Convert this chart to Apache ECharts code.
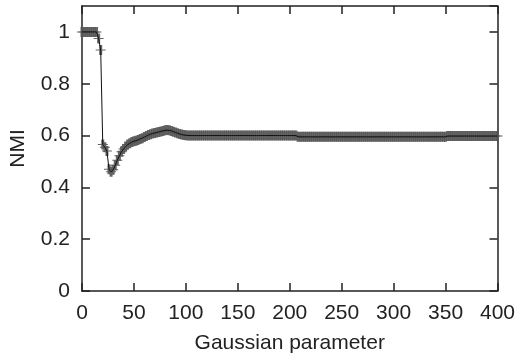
<!DOCTYPE html>
<html>
<head>
<meta charset="utf-8">
<script src="https://cdn.jsdelivr.net/npm/echarts@6/dist/echarts.min.js"></script>
<style>
html,body{margin:0;padding:0;background:#fff;}
#chart{width:518px;height:360px;}
</style>
</head>
<body>
<div id="chart"></div>
<script>
var xTicks = [0, 50, 100, 150, 200, 250, 300, 350, 400];
var yTicks = [0, 0.2, 0.4, 0.6, 0.8, 1];
var xs = [
0,2,4,6,8,10,12,14,16,18,20,22,24,26,28,30,32,34,36,38,
40,42,44,46,48,50,52,54,56,58,60,62,64,66,68,70,72,74,76,78,
80,82,84,86,88,90,92,94,96,98,100,102,104,106,108,110,112,114,116,118,
120,122,124,126,128,130,132,134,136,138,140,142,144,146,148,150,152,154,156,158,
160,162,164,166,168,170,172,174,176,178,180,182,184,186,188,190,192,194,196,198,
200,202,204,206,208,210,212,214,216,218,220,222,224,226,228,230,232,234,236,238,
240,242,244,246,248,250,252,254,256,258,260,262,264,266,268,270,272,274,276,278,
280,282,284,286,288,290,292,294,296,298,300,302,304,306,308,310,312,314,316,318,
320,322,324,326,328,330,332,334,336,338,340,342,344,346,348,350,352,354,356,358,
360,362,364,366,368,370,372,374,376,378,380,382,384,386,388,390,392,394,396,398,
400
];
var nmi = [
1,1,1,1,1,1,1,1,0.975,0.93,0.565,0.555,0.54,0.47,0.46,0.468,0.485,0.505,0.522,0.537,
0.548,0.558,0.565,0.57,0.575,0.578,0.58,0.583,0.587,0.59,0.594,0.598,0.602,0.605,0.608,0.61,0.612,0.614,0.616,0.618,
0.62,0.621,0.62,0.618,0.615,0.612,0.609,0.606,0.604,0.602,0.601,
0.6,0.6,0.6,0.6,0.6,0.6,0.6,0.6,0.6,0.6,
0.6,0.6,0.6,0.6,0.6,0.6,0.6,0.6,0.6,0.6,
0.6,0.6,0.6,0.6,0.6,0.6,0.6,0.6,0.6,0.6,
0.6,0.6,0.6,0.6,0.6,0.6,0.6,0.6,0.6,0.6,
0.6,0.6,0.6,0.6,0.6,0.6,0.6,0.6,0.6,0.6,
0.6,0.6,0.6,
0.595,0.595,0.595,0.595,0.595,0.595,0.595,0.595,0.595,0.595,
0.595,0.595,0.595,0.595,0.595,0.595,0.595,0.595,0.595,0.595,
0.595,0.595,0.595,0.595,0.595,0.595,0.595,0.595,0.595,0.595,
0.595,0.595,0.595,0.595,0.595,0.595,0.595,0.595,0.595,0.595,
0.595,0.595,0.595,0.595,0.595,0.595,0.595,0.595,0.595,0.595,
0.595,0.595,0.595,0.595,0.595,0.595,0.595,0.595,0.595,0.595,
0.595,0.595,0.595,0.595,0.595,0.595,0.595,0.595,0.595,0.595,
0.595,0.595,
0.598,0.598,0.598,0.598,0.598,0.598,0.598,0.598,0.598,0.598,
0.598,0.598,0.598,0.598,0.598,0.598,0.598,0.598,0.598,0.598,
0.598,0.598,0.598,0.598,0.598
];
var xName = 'Gaussian parameter';
var yName = 'NMI';

var pts = xs.map(function (x, i) { return [x, nmi[i]]; });
var font = 'Liberation Sans';
var axisCol = '#222';
var plusPath = 'path://M3.5,0H6.5V4.5H10V5.5H6.5V10H3.5V5.5H0V4.5H3.5Z';

function baseAxis(extra) {
  var a = {
    type: 'value',
    axisLine: { show: true, onZero: false, lineStyle: { color: axisCol, width: 1.5 } },
    axisTick: { show: true, inside: true, length: 8, lineStyle: { color: axisCol, width: 1.5 } },
    splitLine: { show: false },
    axisLabel: { color: '#222', fontFamily: font, fontSize: 21, showMaxLabel: true }
  };
  for (var k in extra) a[k] = extra[k];
  return a;
}

var chart = echarts.init(document.getElementById('chart'), null, { renderer: 'canvas' });
chart.setOption({
  animation: false,
  backgroundColor: '#fff',
  grid: { left: 78, right: 20, top: 6, bottom: 69, containLabel: false },
  xAxis: [
    baseAxis({
      position: 'bottom', min: xTicks[0], max: xTicks[xTicks.length - 1], interval: 50,
      name: xName, nameLocation: 'middle', nameGap: 42,
      nameTextStyle: { color: '#222', fontFamily: font, fontSize: 21 },
      axisLabel: { color: '#222', fontFamily: font, fontSize: 21, margin: 12 }
    }),
    baseAxis({
      position: 'top', min: xTicks[0], max: xTicks[xTicks.length - 1], interval: 50,
      axisLabel: { show: false }
    })
  ],
  yAxis: [
    baseAxis({
      position: 'left', min: 0, max: 1.1, interval: 0.2,
      name: yName, nameLocation: 'middle', nameGap: 53,
      nameTextStyle: { color: '#222', fontFamily: font, fontSize: 21 },
      axisLabel: { color: '#222', fontFamily: font, fontSize: 21, margin: 12, showMaxLabel: false,
        formatter: function (v) { return yTicks.indexOf(Math.round(v * 10) / 10) >= 0 ? String(Math.round(v * 10) / 10) : ''; } }
    }),
    baseAxis({
      position: 'right', min: 0, max: 1.1, interval: 0.2,
      axisLabel: { show: false }
    })
  ],
  series: [
    {
      type: 'scatter', data: pts, xAxisIndex: 0, yAxisIndex: 0,
      symbol: plusPath, symbolSize: [10, 10], z: 2,
      itemStyle: { color: '#555', opacity: 0.9 }
    },
    {
      type: 'line', data: pts, xAxisIndex: 0, yAxisIndex: 0,
      showSymbol: false, z: 3,
      lineStyle: { color: '#111', width: 1 }
    }
  ]
});
</script>
</body>
</html>
